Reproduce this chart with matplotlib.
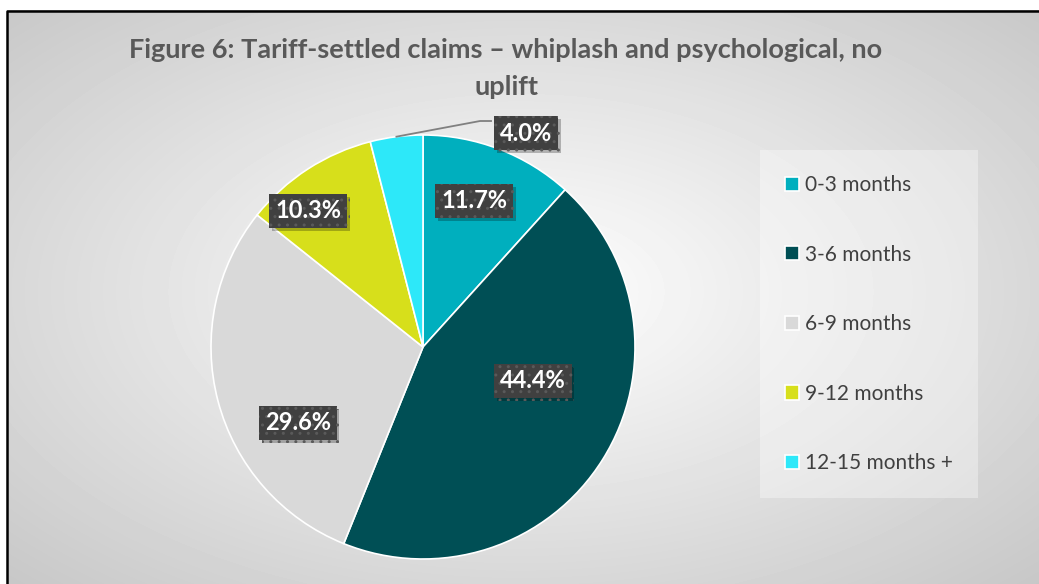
import numpy as np
import matplotlib.pyplot as plt
import matplotlib.patheffects as pe

labels = ['0-3 months', '3-6 months', '6-9 months', '9-12 months', '12-15 months +']
shares = [11.7, 44.4, 29.6, 10.3, 4.0]
colors = ['#00AFBE', '#004F55', '#D9D9D9', '#D7DF1B', '#2DE8F9']

# where each data label sits, in pie units (radius = 1)
label_xy = [(0.241, 0.689), (0.519, -0.160), (-0.590, -0.358), (-0.542, 0.642), (0.486, 1.009)]

plt.rcParams['font.family'] = ['Lato', 'DejaVu Sans']

W, H = 1039, 584
fig = plt.figure(figsize=(W / 100, H / 100), dpi=100)

# radial grey background inside the black frame
bg = fig.add_axes([0, 0, 1, 1])
bg.set_facecolor('white')
yy, xx = np.mgrid[10.5:H:1.0, 6.5:W:1.0]
r = np.hypot((xx - 520) / 520, (yy - 292) / 292) / np.sqrt(2)
shade = 1 - 0.22 * r
bg.imshow(shade, cmap='gray', vmin=0, vmax=1, extent=(6.5, W, H, 10.5),
          aspect='auto', interpolation='bilinear')
bg.plot([6.5, 6.5, W], [H, 10.5, 10.5], color='black', lw=1.8)
bg.set_xlim(0, W)
bg.set_ylim(H, 0)
bg.axis('off')

fig.text(506 / W, 1 - 50 / H, 'Figure 6: Tariff-settled claims \u2013 whiplash and psychological, no',
         ha='center', va='center', fontsize=19.5, weight='bold', color='#595959')
fig.text(506 / W, 1 - 87 / H, 'uplift',
         ha='center', va='center', fontsize=19.5, weight='bold', color='#595959')

# pie
ax = fig.add_axes([211 / W, 25 / H, 424 / W, 424 / H])
wedges, _ = ax.pie(shares, colors=colors, startangle=90, counterclock=False,
                   wedgeprops=dict(edgecolor='white', linewidth=1.2))
ax.set_xlim(-1, 1)
ax.set_ylim(-1, 1)
ax.set_aspect('equal')

# leader line for the small slice
last = wedges[-1]
mid = np.deg2rad((last.theta1 + last.theta2) / 2)
lx, ly = label_xy[-1]
ax.plot([np.cos(mid), lx - 0.217, lx - 0.165], [np.sin(mid), ly + 0.057, ly + 0.057],
        color='#808080', lw=1.3, clip_on=False, zorder=3)

shadow = [pe.SimplePatchShadow(offset=(2, -2), shadow_rgbFace='black', alpha=0.25), pe.Normal()]
for (x, y), v in zip(label_xy, shares):
    t = ax.text(x, y, f'{v:.1f}%', ha='center', va='center', fontsize=17, weight='bold',
                color='white', zorder=5,
                bbox=dict(boxstyle='square,pad=0.24', fc='#404040', ec='#5a5a5a', lw=0, hatch='..'))
    t.get_bbox_patch().set_path_effects(shadow)

leg = fig.legend(wedges, labels, loc='upper left', bbox_to_anchor=(760 / W, 1 - 150 / H),
                 frameon=True, fancybox=False, facecolor='white', framealpha=0.35,
                 edgecolor='none', fontsize=15, labelspacing=2.38, borderpad=1.2,
                 handlelength=0.67, handleheight=0.67, handletextpad=0.3,
                 borderaxespad=0)
for t in leg.get_texts():
    t.set_color('#404040')

fig.savefig('out.png', dpi=100)
